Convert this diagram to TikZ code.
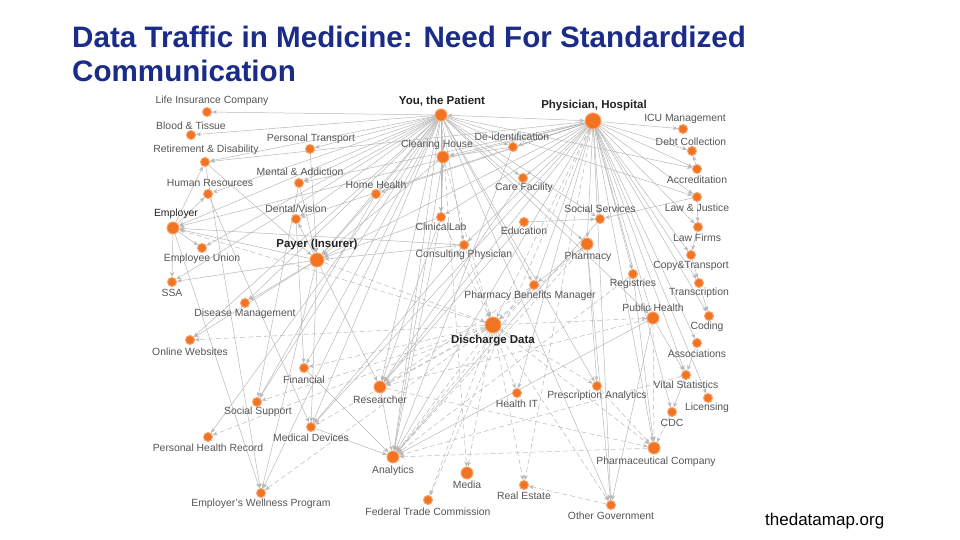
\documentclass[tikz,border=0pt]{standalone}
\usepackage{fontspec}
\setmainfont{Liberation Sans}
\usetikzlibrary{arrows.meta}
\definecolor{titleblue}{HTML}{1A2C88}
\definecolor{dotor}{HTML}{F27321}
\definecolor{dotrim}{HTML}{F5A46E}
\definecolor{edgeg}{HTML}{B8B8B8}
\definecolor{labg}{HTML}{555555}
\definecolor{labd}{HTML}{222222}
\pgfdeclarelayer{bg}\pgfsetlayers{bg,main}
\begin{document}
\begin{tikzpicture}[x=1pt,y=-1pt,
 dotS/.style={circle,fill=dotor,draw=dotrim,line width=1pt,minimum size=9pt,inner sep=0pt},
 dotM/.style={dotS,minimum size=12pt},
 dotL/.style={dotS,minimum size=14pt},
 dotXL/.style={dotS,minimum size=16pt},
 lbl/.style={font=\fontsize{10.4}{11}\selectfont,text=labg,inner sep=0pt},
 lblk/.style={lbl,text=labd},
 lblb/.style={font=\fontsize{11.5}{12}\selectfont\bfseries,text=labd,inner sep=0pt},
 e/.style={draw=edgeg,line width=0.5pt,-{Stealth[length=5pt,width=4pt]}},
 ed/.style={e,dash pattern=on 5pt off 3pt},
 ee/.style={e,{Stealth[length=5pt,width=4pt]}-{Stealth[length=5pt,width=4pt]}},
]
\useasboundingbox (0,0) rectangle (960,540);
% title
\node[anchor=base west,inner sep=0pt,font=\fontsize{29.6}{32}\selectfont\bfseries,text=titleblue] (t1) at (72,48) {Data Traffic in Medicine: Need For Standardized};
\node[anchor=base west,inner sep=0pt,font=\fontsize{29.6}{32}\selectfont\bfseries,text=titleblue] (t2) at (72,82) {Communication};
\node[anchor=base west,inner sep=0pt,font=\fontsize{17}{19}\selectfont,text=black] (src) at (765,525) {thedatamap.org};
% nodes
\node[dotM] (pat) at (441,115) {}; \node[lblb] (patL) at (442,101) {You, the Patient};
\node[dotXL] (phy) at (593,121) {}; \node[lblb] (phyL) at (594,106) {Physician, Hospital};
\node[dotS] (lic) at (207,112) {}; \node[lbl] (licL) at (212,101) {Life Insurance Company};
\node[dotS] (bld) at (191,135) {}; \node[lbl] (bldL) at (191,126) {Blood \& Tissue};
\node[dotS] (ret) at (205,162) {}; \node[lbl] (retL) at (206,150) {Retirement \& Disability};
\node[dotS] (ptr) at (310,149) {}; \node[lbl] (ptrL) at (311,139) {Personal Transport};
\node[dotM] (clr) at (443,157) {}; \node[lbl] (clrL) at (437,145) {Clearing House};
\node[dotS] (dei) at (513,147) {}; \node[lbl] (deiL) at (512,137) {De-identification};
\node[dotS] (men) at (299,183) {}; \node[lbl] (menL) at (300,172) {Mental \& Addiction};
\node[dotS] (hr) at (208,194) {}; \node[lbl] (hrL) at (210,183) {Human Resources};
\node[dotS] (hom) at (376,194) {}; \node[lbl] (homL) at (376,185) {Home Health};
\node[dotS] (car) at (523,178) {}; \node[lbl] (carL) at (524,188) {Care Facility};
\node[dotS] (icu) at (683,129) {}; \node[lbl] (icuL) at (685,119) {ICU Management};
\node[dotS] (dbt) at (692,151) {}; \node[lbl] (dbtL) at (691,142) {Debt Collection};
\node[dotS] (acc) at (697,169) {}; \node[lbl] (accL) at (697,180) {Accreditation};
\node[dotS] (law) at (697,197) {}; \node[lbl] (lawL) at (697,208) {Law \& Justice};
\node[dotS] (lfm) at (698,227) {}; \node[lbl] (lfmL) at (697,238) {Law Firms};
\node[dotS] (soc) at (600,219) {}; \node[lbl] (socL) at (600,209) {Social Services};
\node[dotS] (edu) at (524,222) {}; \node[lbl] (eduL) at (524,231) {Education};
\node[dotS] (lab) at (441,217) {}; \node[lbl] (labL) at (441,227) {ClinicalLab};
\node[dotM] (phm) at (587,244) {}; \node[lbl] (phmL) at (588,257) {Pharmacy};
\node[dotS] (den) at (296,219) {}; \node[lbl] (denL) at (296,209) {Dental/Vision};
\node[dotM] (emp) at (173,228) {}; \node[lblk] (empL) at (176,214) {Employer};
\node[dotS] (eun) at (202,248) {}; \node[lbl] (eunL) at (202,259) {Employee Union};
\node[dotL] (pay) at (317,260) {}; \node[lblb] (payL) at (317,245) {Payer (Insurer)};
\node[dotS] (con) at (464,245) {}; \node[lbl] (conL) at (464,255) {Consulting Physician};
\node[dotS] (ssa) at (172,282) {}; \node[lbl] (ssaL) at (172,293) {SSA};
\node[dotS] (dis) at (245,303) {}; \node[lbl] (disL) at (245,314) {Disease Management};
\node[dotS] (onl) at (190,340) {}; \node[lbl] (onlL) at (190,352) {Online Websites};
\node[dotS] (fin) at (304,368) {}; \node[lbl] (finL) at (304,380) {Financial};
\node[dotM] (res) at (380,387) {}; \node[lbl] (resL) at (380,400) {Researcher};
\node[dotS] (reg) at (633,274) {}; \node[lbl] (regL) at (633,284) {Registries};
\node[dotS] (cpy) at (691,255) {}; \node[lbl] (cpyL) at (691,266) {Copy\&Transport};
\node[dotS] (trn) at (699,283) {}; \node[lbl] (trnL) at (699,293) {Transcription};
\node[dotS] (pbm) at (534,285) {}; \node[lbl] (pbmL) at (530,296) {Pharmacy Benefits Manager};
\node[dotM] (pub) at (653,318) {}; \node[lbl] (pubL) at (653,308) {Public Health};
\node[dotS] (cod) at (709,316) {}; \node[lbl] (codL) at (707,327) {Coding};
\node[dotXL] (dsc) at (493,325) {}; \node[lblb] (dscL) at (493,341) {Discharge Data};
\node[dotS] (asc) at (697,343) {}; \node[lbl] (ascL) at (697,354) {Associations};
\node[dotS] (vit) at (686,375) {}; \node[lbl] (vitL) at (686,385) {Vital Statistics};
\node[dotS] (lcn) at (708,398) {}; \node[lbl] (lcnL) at (707,408) {Licensing};
\node[dotS] (rxa) at (597,386) {}; \node[lbl] (rxaL) at (597,396) {Prescription Analytics};
\node[dotS] (hit) at (517,393) {}; \node[lbl] (hitL) at (517,404) {Health IT};
\node[dotS] (cdc) at (672,412) {}; \node[lbl] (cdcL) at (672,423) {CDC};
\node[dotS] (ssp) at (257,402) {}; \node[lbl] (sspL) at (258,412) {Social Support};
\node[dotS] (med) at (311,427) {}; \node[lbl] (medL) at (311,438) {Medical Devices};
\node[dotS] (phr) at (208,437) {}; \node[lbl] (phrL) at (208,448) {Personal Health Record};
\node[dotM] (ana) at (393,457) {}; \node[lbl] (anaL) at (393,471) {Analytics};
\node[dotM] (pha) at (654,448) {}; \node[lbl] (phaL) at (656,462) {Pharmaceutical Company};
\node[dotM] (mda) at (467,473) {}; \node[lbl] (mdaL) at (467,485) {Media};
\node[dotS] (rea) at (524,485) {}; \node[lbl] (reaL) at (524,496) {Real Estate};
\node[dotS] (ewp) at (261,493) {}; \node[lbl] (ewpL) at (261,504) {Employer's Wellness Program};
\node[dotS] (ftc) at (428,500) {}; \node[lbl] (ftcL) at (428,512) {Federal Trade Commission};
\node[dotS] (oth) at (611,505) {}; \node[lbl] (othL) at (611,516) {Other Government};
% edges
\begin{pgfonlayer}{bg}
\draw[ee] (pat) -- (phy);
\foreach \a/\b in {pat/lic,pat/bld,pat/ret,pat/ptr,pat/hr,pat/emp,pat/men,pat/hom,pat/clr,pat/dei,pat/car,pat/pay,pat/den,pat/lab,pat/con,pat/phm,pat/soc,pat/law,pat/acc,pat/res,pat/fin,pat/ssp,pat/phr,pat/ewp,pat/med,pat/onl,pat/pub,pat/pbm,pat/ana,pat/oth,pat/rxa,pat/eun,pat/dis,pat/ssa,
 phy/icu,phy/dbt,phy/acc,phy/law,phy/lfm,phy/cpy,phy/trn,phy/cod,phy/asc,phy/lcn,phy/vit,phy/cdc,phy/reg,phy/pub,phy/phm,phy/soc,phy/clr,phy/dei,phy/car,phy/pay,phy/lab,phy/con,phy/emp,phy/pha,phy/oth,phy/res,phy/ana,phy/med,phy/hit,phy/pbm,phy/hom,phy/ret,phy/den,phy/men,
 emp/ssa,emp/eun,emp/hr,emp/ret,emp/ewp,pay/emp,pay/ssa,pay/dis,pay/onl,pay/med,pay/ewp,pay/res,pay/den,ret/pay,ptr/pay,men/pay,hom/pay,clr/pay,lab/pay,con/pay,
 law/lfm,law/soc,edu/soc,dei/clr,lab/clr,clr/lab,phm/pbm,phm/rxa,pub/oth,pub/vit,phm/oth,con/emp,soc/ana,car/res,dei/ana,clr/ana,lab/res,hr/med,ret/ewp,men/ssp,hom/ssp,den/fin,lab/ana,pub/ana,res/ana,fin/ana,med/ana,reg/pha,vit/cdc,lfm/cpy,trn/cod,asc/vit,acc/dbt,cpy/trn,con/med,edu/res}
 \draw[e] (\a) -- (\b);
\foreach \a/\b in {dsc/onl,dsc/fin,dsc/res,dsc/ana,dsc/pha,dsc/hit,dsc/mda,dsc/rea,dsc/ftc,dsc/pub,dsc/rxa,dsc/med,dsc/emp,dsc/phr,res/pha,pha/ana,oth/rea,phy/dsc,pbm/dsc,phm/dsc,pay/dsc,lab/dsc,con/dsc,clr/dsc,rxa/pha,cdc/pha,pub/pha,pub/res,vit/ana,phm/ana,pbm/ana,dsc/oth,dsc/ewp,dsc/ssp,pat/mda,phy/ftc,phy/rea,pbm/res,reg/ana}
 \draw[ed] (\a) -- (\b);
\end{pgfonlayer}
\end{tikzpicture}
\end{document}
